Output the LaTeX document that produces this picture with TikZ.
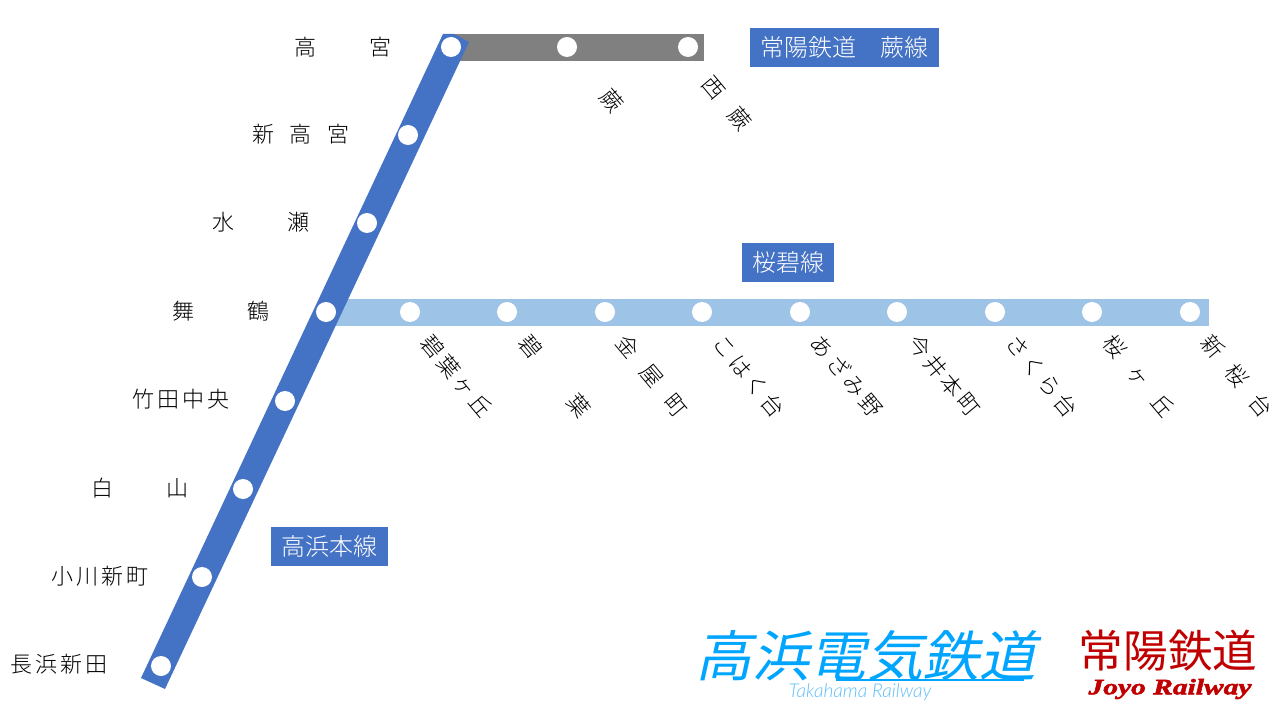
\documentclass[tikz,border=0pt]{standalone}
\usepackage{fontspec}
\setmainfont{Noto Sans CJK JP Light}
\newfontfamily\logofont[FakeSlant=0.22,FakeStretch=1.04]{Noto Sans CJK JP}
\newfontfamily\joyofont{Noto Sans CJK JP}
\newfontfamily\enlight[ItalicFont={Lato Light Italic}]{Lato Light}
\newfontfamily\enheavy[FakeStretch=1.34,FakeBold=2.5]{Liberation Serif Bold Italic}
\definecolor{mainblue}{HTML}{4472C4}
\definecolor{paleblue}{HTML}{9DC3E6}
\definecolor{linegray}{HTML}{808080}
\definecolor{logoblue}{HTML}{00A5FF}
\definecolor{logopale}{HTML}{5FBDF8}
\definecolor{joyored}{HTML}{C00000}
\newcommand{\spanbox}[1]{\hbox to 73.5pt{#1}}
\newcommand{\gp}{\hfill}
\tikzset{
  x=0.75pt,y=-0.75pt,
  stn/.style={circle,fill=white,draw=none,inner sep=0pt,minimum size=15pt},
  lbl/.style={inner sep=0pt,font=\fontsize{16.5pt}{18pt}\selectfont,text=black},
  rlbl/.style={lbl,rotate=-50},
  tag/.style={fill=mainblue,text=white,inner sep=0pt,font=\fontsize{18pt}{20pt}\selectfont},
  track/.style={line width=20.3pt,line cap=butt}
}
\begin{document}
\begin{tikzpicture}
\useasboundingbox (0,0) rectangle (1280,720);
% stations as coordinates for the tracks
\coordinate (gt) at (446,47.5);
\coordinate (ge) at (704,47.5);
\coordinate (pt) at (326,312.5);
\coordinate (pe) at (1209,312.5);
\draw[track,draw=linegray] (gt) -- (ge);
\draw[track,draw=paleblue] (pt) -- (pe);
\fill[mainblue] (443,34) -- (454,34) -- (469,42) -- (165,689) -- (141,678) -- cycle;
% main line stations
\node[stn] (s1) at (451,47) {};
\node[stn] (s2) at (408,135) {};
\node[stn] (s3) at (367,223) {};
\node[stn] (s4) at (326,312) {};
\node[stn] (s5) at (285,401) {};
\node[stn] (s6) at (243,489) {};
\node[stn] (s7) at (202,577) {};
\node[stn] (s8) at (161,666) {};
% warabi
\node[stn] (w1) at (567,47) {};
\node[stn] (w2) at (688,47) {};
% sakura
\node[stn] (p1) at (410,312) {};
\node[stn] (p2) at (507,312) {};
\node[stn] (p3) at (605,312) {};
\node[stn] (p4) at (702,312) {};
\node[stn] (p5) at (800,312) {};
\node[stn] (p6) at (897,312) {};
\node[stn] (p7) at (995,312) {};
\node[stn] (p8) at (1092,312) {};
\node[stn] (p9) at (1190,312) {};
% left labels
\node[lbl] (l1) at (343,47) {\spanbox{高\gp 宮}};
\node[lbl] (l2) at (301,134) {\spanbox{新\gp 高\gp 宮}};
\node[lbl] (l3) at (261,222) {\spanbox{水\gp 瀬}};
\node[lbl] (l4) at (221,311) {\spanbox{舞\gp 鶴}};
\node[lbl] (l5) at (181,399) {\spanbox{竹\gp 田\gp 中\gp 央}};
\node[lbl] (l6) at (140,488) {\spanbox{白\gp 山}};
\node[lbl] (l7) at (100,576) {\spanbox{小\gp 川\gp 新\gp 町}};
\node[lbl] (l8) at (59,664) {\spanbox{長\gp 浜\gp 新\gp 田}};
% rotated labels
\node[rlbl] (r1) at (457,376) {\spanbox{碧\gp 葉\gp ヶ\gp 丘}};
\node[rlbl] (r2) at (555,376) {\spanbox{碧\gp 葉}};
\node[rlbl] (r3) at (652,376) {\spanbox{金\gp 屋\gp 町}};
\node[rlbl] (r4) at (749,376) {\spanbox{こ\gp は\gp く\gp 台}};
\node[rlbl] (r5) at (847,376) {\spanbox{あ\gp ざ\gp み\gp 野}};
\node[rlbl] (r6) at (944,376) {\spanbox{今\gp 井\gp 本\gp 町}};
\node[rlbl] (r7) at (1042,376) {\spanbox{さ\gp く\gp ら\gp 台}};
\node[rlbl] (r8) at (1139,376) {\spanbox{桜\gp ヶ\gp 丘}};
\node[rlbl] (r9) at (1237,376) {\spanbox{新\gp 桜\gp 台}};
\node[rlbl] (w3) at (612,101) {蕨};
\node[rlbl] (w4) at (727,103) {\hbox to 47pt{西\gp 蕨}};
% line tags
\node[tag,minimum width=141.75pt,minimum height=29.25pt] (t1) at (844.5,47.5) {常陽鉄道\hspace{18pt}蕨線};
\node[tag,minimum width=69pt,minimum height=29.25pt] (t2) at (788,262.5) {桜碧線};
\node[tag,minimum width=87.75pt,minimum height=29.25pt] (t3) at (329.5,546.5) {高浜本線};
% logos
\node[inner sep=0pt,text=logoblue,font=\logofont\fontsize{41pt}{44pt}\selectfont] (lg1) at (866,656) {高浜電気鉄道};
\draw[logoblue,line width=1.4pt] (836,680) -- (1024,680);
\node[inner sep=0pt,text=logopale,font=\enlight\itshape\fontsize{14.3pt}{15pt}\selectfont] (lg2) at (860,692) {Takahama Railway};
\node[inner sep=0pt,text=joyored,font=\joyofont\fontsize{33.5pt}{36pt}\selectfont] (lg3) at (1168,651) {常陽鉄道};
\node[inner sep=0pt,text=joyored,font=\enheavy\fontsize{16.5pt}{17pt}\selectfont] (lg4) at (1170,689) {Joyo Railway};
\end{tikzpicture}
\end{document}
